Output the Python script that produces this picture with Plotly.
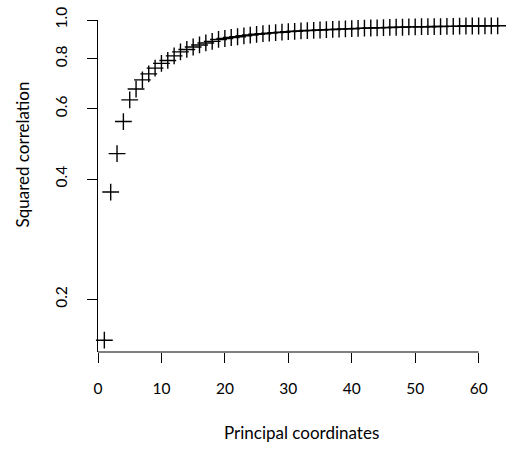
import math
import plotly.graph_objects as go

# Principal coordinate index and the squared correlation reached with that many axes
coords = list(range(1, 64))
sq_corr = [
    0.158, 0.371, 0.463, 0.557, 0.631, 0.672, 0.708, 0.733, 0.758, 0.779,
    0.792, 0.813, 0.832, 0.844, 0.856, 0.866, 0.876, 0.884, 0.894, 0.899,
    0.904, 0.908, 0.913, 0.917, 0.921, 0.924, 0.927, 0.930, 0.932, 0.935,
    0.937, 0.939, 0.941, 0.942, 0.944, 0.946, 0.947, 0.949, 0.950, 0.951,
    0.953, 0.954, 0.955, 0.956, 0.957, 0.958, 0.959, 0.959, 0.961, 0.961,
    0.962, 0.962, 0.963, 0.963, 0.964, 0.964, 0.965, 0.966, 0.966, 0.966,
    0.967, 0.967, 0.967,
]

x_ticks = [0, 10, 20, 30, 40, 50, 60]
y_ticks = [0.2, 0.4, 0.6, 0.8, 1.0]
y_tick_text = ["0.2", "0.4", "0.6", "0.8", "1.0"]

FONT = "Gill Sans, Lato, sans-serif"
INK = "black"

fig = go.Figure(
    go.Scatter(
        x=coords,
        y=sq_corr,
        mode="markers",
        marker=dict(symbol="cross-thin", size=12, line=dict(color=INK, width=1.4)),
        cliponaxis=False,
        showlegend=False,
    )
)

fig.update_layout(
    width=506,
    height=451,
    margin=dict(l=98, r=2, t=20, b=99),
    paper_bgcolor="white",
    plot_bgcolor="white",
    font=dict(family=FONT, size=15.5, color=INK),
    xaxis=dict(
        range=[0, 64],
        tickvals=x_ticks,
        ticks="outside",
        ticklen=10,
        tickcolor=INK,
        tickwidth=1,
        showline=False,
        showgrid=False,
        zeroline=False,
        automargin=False,
        ticklabelstandoff=12,
        tickfont=dict(size=15.5),
    ),
    yaxis=dict(
        type="log",
        range=[math.log10(0.1476), 0],
        tickvals=y_ticks,
        ticktext=y_tick_text,
        tickangle=-90,
        ticks="outside",
        ticklen=10,
        tickcolor=INK,
        tickwidth=1,
        showline=True,
        linecolor=INK,
        linewidth=1,
        showgrid=False,
        zeroline=False,
        automargin=False,
        ticklabelstandoff=14,
        tickfont=dict(size=15.5),
    ),
    # x axis line runs only between the first and last tick
    shapes=[
        dict(
            type="line",
            xref="x", yref="paper",
            x0=x_ticks[0], x1=x_ticks[-1], y0=0, y1=0,
            line=dict(color=INK, width=1),
        )
    ],
    annotations=[
        dict(
            text="Principal coordinates",
            xref="paper", yref="paper",
            x=0.5, y=0,
            xanchor="center", yanchor="middle",
            yshift=-80,
            showarrow=False,
            font=dict(size=17),
        ),
        dict(
            text="Squared correlation",
            xref="paper", yref="paper",
            x=0, y=0.595,
            xanchor="center", yanchor="middle",
            xshift=-76,
            textangle=-90,
            showarrow=False,
            font=dict(size=17),
        ),
    ],
)

fig.write_html("out.html")
